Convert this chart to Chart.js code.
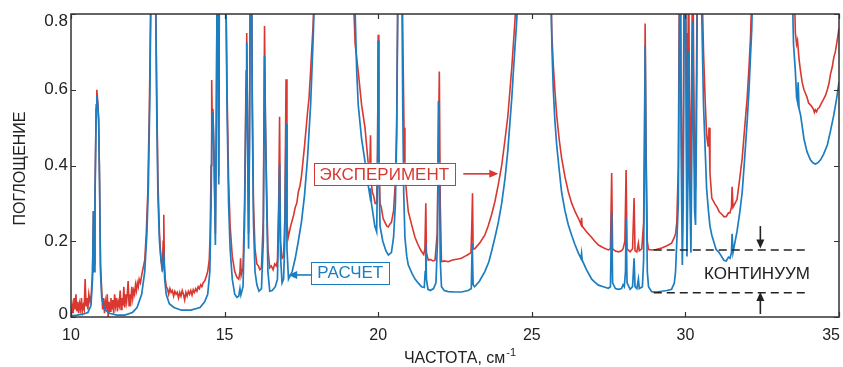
<!DOCTYPE html>
<html><head><meta charset="utf-8">
<script src="https://cdn.jsdelivr.net/npm/chart.js@4"></script>
<style>html,body{margin:0;padding:0;background:#fff}canvas{display:block}</style>
</head><body>
<canvas id="c" width="843" height="367"></canvas>
<script>
const xTickValues = [10, 15, 20, 25, 30, 35];
const xTickLabels = ['10', '15', '20', '25', '30', '35'];
const yTickValues = [0, 0.2, 0.4, 0.6, 0.8];
const yTickLabels = ['0', '0.2', '0.4', '0.6', '0.8'];

// calculated spectrum (РАСЧЕТ): [frequency, absorption]
const calcSpectrum = [
 [10.00,0.003],[10.20,0.005],[10.40,0.008],[10.55,0.012],[10.65,0.03],[10.70,0.10],[10.73,0.28],[10.75,0.12],
 [10.78,0.30],[10.82,0.55],[10.84,0.585],[10.87,0.56],[10.90,0.52],[10.93,0.35],[10.96,0.12],[11.00,0.05],
 [11.10,0.02],[11.25,0.01],[11.50,0.005],[11.75,0.005],[12.00,0.012],[12.15,0.025],[12.30,0.06],[12.40,0.12],
 [12.47,0.22],[12.52,0.35],[12.57,0.60],[12.60,0.85],[12.65,1.1],[12.72,1.1],[12.76,0.80],[12.79,0.55],
 [12.83,0.32],[12.88,0.20],[12.93,0.15],[12.98,0.13],[13.02,0.17],[13.05,0.10],[13.10,0.06],[13.20,0.035],
 [13.35,0.025],[13.60,0.018],[13.90,0.018],[14.20,0.025],[14.35,0.04],[14.45,0.06],[14.52,0.12],[14.56,0.30],
 [14.59,0.53],[14.62,0.54],[14.66,0.40],[14.70,0.19],[14.73,0.50],[14.76,0.95],[14.79,0.80],[14.81,0.35],
 [14.83,0.90],[14.87,1.1],[14.93,0.85],[14.97,1.1],[15.03,0.95],[15.08,0.55],[15.13,0.30],[15.18,0.18],
 [15.25,0.10],[15.33,0.06],[15.40,0.052],[15.46,0.055],[15.50,0.075],[15.53,0.058],[15.60,0.08],[15.65,0.25],
 [15.70,0.60],[15.72,0.725],[15.75,0.45],[15.78,0.18],[15.81,0.45],[15.84,0.95],[15.87,1.1],[15.90,0.55],
 [15.94,0.25],[15.99,0.12],[16.05,0.085],[16.12,0.068],[16.20,0.075],[16.26,0.20],[16.30,0.69],[16.33,0.50],
 [16.37,0.30],[16.41,0.12],[16.47,0.068],[16.55,0.07],[16.65,0.08],[16.72,0.10],[16.76,0.25],[16.79,0.405],
 [16.82,0.16],[16.87,0.09],[16.92,0.10],[16.96,0.20],[17.00,0.51],[17.03,0.18],[17.08,0.10],[17.20,0.12],
 [17.30,0.155],[17.40,0.20],[17.50,0.25],[17.60,0.32],[17.70,0.42],[17.80,0.56],[17.88,0.73],[17.95,0.90],
 [18.05,1.1],[18.60,1.3],[19.15,1.1],[19.20,1.0],[19.25,0.80],[19.30,0.65],[19.35,0.56],[19.46,0.47],
 [19.57,0.41],[19.67,0.35],[19.73,0.32],[19.75,0.34],[19.78,0.30],[19.89,0.24],[19.95,0.225],[19.98,0.40],
 [20.00,0.73],[20.02,0.40],[20.06,0.24],[20.15,0.20],[20.25,0.175],[20.33,0.164],[20.43,0.17],[20.50,0.21],
 [20.56,0.30],[20.60,0.47],[20.64,0.85],[20.70,1.1],[20.76,1.0],[20.80,0.55],[20.83,0.33],[20.87,0.21],
 [20.93,0.16],[20.98,0.137],[21.10,0.115],[21.20,0.10],[21.30,0.09],[21.41,0.08],[21.50,0.078],[21.53,0.12],
 [21.55,0.195],[21.57,0.10],[21.62,0.073],[21.70,0.07],[21.80,0.075],[21.88,0.09],[21.93,0.20],[21.96,0.57],
 [21.99,0.40],[22.02,0.15],[22.06,0.08],[22.15,0.07],[22.28,0.067],[22.50,0.066],[22.71,0.066],[22.93,0.07],
 [23.03,0.075],[23.06,0.195],[23.09,0.085],[23.14,0.08],[23.30,0.095],[23.47,0.12],[23.60,0.145],[23.69,0.173],
 [23.80,0.21],[23.91,0.25],[24.02,0.30],[24.13,0.367],[24.22,0.44],[24.29,0.516],[24.35,0.58],[24.40,0.648],
 [24.45,0.71],[24.50,0.77],[24.55,0.85],[24.60,1.0],[25.10,1.3],[25.58,1.0],[25.62,0.85],[25.66,0.70],
 [25.70,0.60],[25.75,0.52],[25.81,0.454],[25.89,0.39],[25.97,0.33],[26.08,0.28],[26.19,0.243],[26.30,0.215],
 [26.41,0.19],[26.52,0.168],[26.60,0.155],[26.62,0.168],[26.64,0.15],[26.78,0.125],[26.95,0.10],[27.05,0.092],
 [27.17,0.084],[27.33,0.08],[27.49,0.076],[27.56,0.08],[27.60,0.278],[27.63,0.09],[27.72,0.075],[27.82,0.073],
 [27.92,0.075],[27.97,0.085],[28.01,0.08],[28.05,0.12],[28.07,0.26],[28.10,0.09],[28.20,0.073],[28.28,0.08],
 [28.33,0.155],[28.36,0.08],[28.42,0.075],[28.47,0.10],[28.50,0.075],[28.60,0.08],[28.64,0.15],[28.67,0.45],
 [28.69,0.718],[28.72,0.40],[28.76,0.12],[28.80,0.08],[28.90,0.067],[29.05,0.066],[29.23,0.068],[29.40,0.07],
 [29.55,0.073],[29.64,0.09],[29.68,0.12],[29.72,0.20],[29.77,0.30],[29.80,0.70],[29.83,1.0],[29.86,0.45],
 [29.90,0.137],[29.93,0.30],[29.96,0.85],[29.99,1.0],[30.02,0.60],[30.05,0.16],[30.08,0.35],[30.10,0.70],
 [30.13,0.40],[30.18,0.17],[30.21,0.45],[30.24,0.78],[30.27,0.50],[30.30,0.28],[30.33,0.243],[30.36,0.50],
 [30.40,1.0],[30.47,1.0],[30.52,0.85],[30.59,0.56],[30.64,0.45],[30.69,0.34],[30.75,0.28],[30.80,0.24],
 [30.86,0.216],[31.00,0.178],[31.08,0.172],[31.16,0.162],[31.25,0.15],[31.33,0.148],[31.40,0.158],[31.45,0.155],
 [31.50,0.17],[31.52,0.22],[31.55,0.17],[31.68,0.226],[31.76,0.27],[31.85,0.33],[31.93,0.42],[32.01,0.516],
 [32.07,0.60],[32.12,0.69],[32.16,0.76],[32.20,0.90],[32.25,1.1],[32.85,1.3],[33.45,1.1],[33.47,0.9],
 [33.52,0.72],[33.58,0.648],[33.62,0.58],[33.65,0.568],[33.67,0.62],[33.70,0.55],[33.75,0.533],[33.86,0.47],
 [33.96,0.436],[34.07,0.415],[34.15,0.407],[34.23,0.404],[34.31,0.407],[34.40,0.415],[34.50,0.43],[34.62,0.454],
 [34.72,0.49],[34.83,0.533],[34.92,0.575],[35.00,0.62]
];

// measured spectrum (ЭКСПЕРИМЕНТ): [frequency, absorption]
const expSpectrum = [
 [10.00,0.00],[10.04,0.03],[10.07,0.01],[10.10,0.05],[10.13,0.02],[10.16,0.06],[10.19,0.015],[10.22,0.04],
 [10.25,0.01],[10.28,0.035],[10.31,0.02],[10.34,0.05],[10.37,0.015],[10.40,0.03],[10.43,0.02],[10.46,0.10],
 [10.49,0.03],[10.52,0.05],[10.55,0.02],[10.58,0.06],[10.62,0.04],[10.66,0.06],[10.70,0.12],[10.73,0.28],
 [10.75,0.14],[10.78,0.32],[10.82,0.56],[10.84,0.60],[10.87,0.57],[10.90,0.52],[10.93,0.36],[10.96,0.14],
 [11.00,0.07],[11.03,0.02],[11.06,0.05],[11.09,0.01],[11.12,0.04],[11.15,0.02],[11.18,0.06],[11.21,0.00],
 [11.24,0.04],[11.27,0.015],[11.30,0.05],[11.33,0.02],[11.36,0.045],[11.39,0.01],[11.42,0.06],[11.45,0.03],
 [11.48,0.05],[11.51,0.015],[11.54,0.04],[11.57,0.03],[11.60,0.07],[11.63,0.02],[11.66,0.05],[11.69,0.03],
 [11.72,0.08],[11.75,0.025],[11.78,0.06],[11.81,0.04],[11.84,0.07],[11.86,0.095],[11.89,0.03],[11.92,0.06],
 [11.95,0.045],[11.98,0.08],[12.01,0.05],[12.04,0.07],[12.07,0.06],[12.10,0.085],[12.13,0.07],[12.16,0.09],
 [12.19,0.08],[12.22,0.10],[12.26,0.09],[12.30,0.11],[12.35,0.13],[12.40,0.15],[12.45,0.22],[12.50,0.33],
 [12.55,0.55],[12.60,0.85],[12.65,1.1],[12.72,1.1],[12.76,0.82],[12.79,0.60],[12.83,0.36],[12.88,0.22],
 [12.93,0.15],[12.97,0.12],[13.00,0.20],[13.02,0.27],[13.04,0.14],[13.07,0.10],[13.10,0.08],[13.14,0.075],
 [13.18,0.06],[13.22,0.075],[13.26,0.065],[13.30,0.07],[13.34,0.055],[13.38,0.068],[13.42,0.06],[13.46,0.065],
 [13.50,0.05],[13.54,0.065],[13.58,0.055],[13.62,0.07],[13.66,0.06],[13.70,0.045],[13.74,0.065],[13.78,0.055],
 [13.82,0.068],[13.86,0.06],[13.90,0.07],[13.94,0.058],[13.98,0.072],[14.02,0.065],[14.06,0.075],[14.10,0.068],
 [14.14,0.08],[14.18,0.075],[14.22,0.085],[14.26,0.08],[14.30,0.09],[14.35,0.095],[14.40,0.106],[14.45,0.12],
 [14.50,0.15],[14.53,0.22],[14.56,0.40],[14.58,0.626],[14.60,0.50],[14.62,0.55],[14.66,0.42],[14.70,0.22],
 [14.73,0.52],[14.76,0.95],[14.79,0.82],[14.81,0.37],[14.83,0.92],[14.87,1.1],[14.93,0.88],[14.97,1.1],
 [15.03,0.96],[15.08,0.60],[15.13,0.36],[15.18,0.24],[15.25,0.16],[15.33,0.12],[15.40,0.105],[15.46,0.10],
 [15.50,0.12],[15.52,0.155],[15.54,0.11],[15.60,0.13],[15.65,0.30],[15.70,0.65],[15.72,0.75],[15.75,0.48],
 [15.78,0.22],[15.81,0.48],[15.84,0.96],[15.87,1.1],[15.90,0.60],[15.94,0.30],[15.99,0.18],[16.05,0.14],
 [16.10,0.135],[16.15,0.125],[16.20,0.13],[16.26,0.26],[16.30,0.768],[16.33,0.52],[16.37,0.33],[16.41,0.18],
 [16.47,0.13],[16.52,0.135],[16.58,0.125],[16.63,0.14],[16.68,0.135],[16.72,0.15],[16.76,0.30],[16.79,0.529],
 [16.82,0.20],[16.87,0.155],[16.92,0.16],[16.96,0.26],[17.00,0.628],[17.03,0.25],[17.07,0.21],[17.15,0.24],
 [17.20,0.255],[17.25,0.27],[17.30,0.29],[17.35,0.30],[17.40,0.33],[17.45,0.345],[17.50,0.37],[17.60,0.45],
 [17.70,0.54],[17.75,0.58],[17.80,0.65],[17.88,0.77],[17.93,0.90],[18.00,1.1],[18.60,1.3],[19.15,1.1],
 [19.19,0.85],[19.25,0.72],[19.35,0.648],[19.46,0.56],[19.57,0.50],[19.67,0.41],[19.72,0.37],[19.75,0.48],
 [19.77,0.36],[19.81,0.33],[19.85,0.32],[19.90,0.30],[19.95,0.30],[19.98,0.45],[20.00,0.745],[20.02,0.45],
 [20.06,0.30],[20.10,0.29],[20.16,0.26],[20.22,0.25],[20.28,0.24],[20.33,0.238],[20.38,0.245],[20.43,0.25],
 [20.50,0.28],[20.56,0.36],[20.60,0.50],[20.64,0.88],[20.70,1.1],[20.76,1.1],[20.80,0.75],[20.84,0.50],
 [20.87,0.38],[20.93,0.32],[20.98,0.278],[21.10,0.24],[21.20,0.21],[21.30,0.19],[21.41,0.173],[21.48,0.165],
 [21.52,0.18],[21.55,0.30],[21.57,0.17],[21.63,0.15],[21.70,0.152],[21.78,0.148],[21.85,0.15],[21.92,0.22],
 [21.99,0.648],[22.02,0.30],[22.06,0.146],[22.15,0.148],[22.28,0.146],[22.40,0.15],[22.50,0.152],[22.60,0.153],
 [22.71,0.155],[22.82,0.16],[22.93,0.165],[23.02,0.17],[23.05,0.25],[23.07,0.327],[23.09,0.18],[23.14,0.18],
 [23.30,0.195],[23.47,0.216],[23.58,0.24],[23.69,0.27],[23.80,0.305],[23.91,0.35],[24.02,0.40],[24.13,0.47],
 [24.22,0.53],[24.29,0.60],[24.35,0.66],[24.40,0.72],[24.45,0.78],[24.50,0.85],[24.55,1.0],[25.10,1.3],
 [25.60,1.0],[25.65,0.75],[25.70,0.665],[25.75,0.60],[25.81,0.533],[25.89,0.47],[25.97,0.42],[26.08,0.37],
 [26.19,0.33],[26.30,0.30],[26.41,0.278],[26.52,0.26],[26.60,0.245],[26.62,0.262],[26.64,0.24],[26.78,0.225],
 [26.95,0.21],[27.05,0.20],[27.17,0.19],[27.33,0.183],[27.49,0.177],[27.56,0.18],[27.60,0.38],[27.63,0.18],
 [27.72,0.174],[27.82,0.172],[27.92,0.175],[27.97,0.18],[28.03,0.20],[28.07,0.388],[28.10,0.18],[28.20,0.172],
 [28.28,0.18],[28.33,0.314],[28.36,0.175],[28.42,0.172],[28.47,0.195],[28.50,0.175],[28.58,0.18],[28.64,0.25],
 [28.67,0.50],[28.69,0.775],[28.72,0.45],[28.76,0.20],[28.80,0.178],[28.90,0.177],[29.05,0.178],[29.23,0.182],
 [29.40,0.188],[29.55,0.195],[29.64,0.21],[29.68,0.22],[29.72,0.25],[29.77,0.40],[29.80,0.85],[29.83,1.1],
 [29.86,0.60],[29.90,0.31],[29.93,0.45],[29.96,1.0],[29.99,1.1],[30.02,0.75],[30.05,0.30],[30.08,0.50],
 [30.10,1.0],[30.13,0.60],[30.18,0.34],[30.21,0.70],[30.24,1.0],[30.27,0.65],[30.30,0.40],[30.33,0.34],
 [30.36,0.62],[30.40,1.1],[30.47,1.1],[30.52,0.95],[30.59,0.70],[30.64,0.58],[30.69,0.48],[30.74,0.45],
 [30.77,0.50],[30.80,0.38],[30.86,0.314],[30.95,0.30],[31.03,0.29],[31.10,0.278],[31.20,0.27],[31.25,0.265],
 [31.33,0.265],[31.40,0.275],[31.45,0.275],[31.50,0.29],[31.52,0.344],[31.55,0.29],[31.68,0.31],[31.76,0.36],
 [31.85,0.42],[31.93,0.50],[32.01,0.578],[32.07,0.66],[32.12,0.74],[32.16,0.85],[32.20,1.0],[32.85,1.3],
 [33.50,1.0],[33.55,0.85],[33.58,0.75],[33.62,0.72],[33.65,0.73],[33.70,0.68],[33.75,0.648],[33.80,0.62],
 [33.86,0.60],[33.91,0.59],[33.96,0.58],[34.01,0.565],[34.07,0.56],[34.12,0.555],[34.17,0.548],[34.20,0.54],
 [34.23,0.547],[34.27,0.542],[34.31,0.55],[34.36,0.553],[34.40,0.56],[34.45,0.568],[34.50,0.575],[34.56,0.585],
 [34.62,0.60],[34.67,0.615],[34.72,0.64],[34.78,0.66],[34.83,0.685],[34.88,0.70],[34.92,0.72],[34.96,0.74],
 [35.00,0.763]
];

// continuum levels marked by dashed lines
const continuumFreq = [28.97, 34.0];
const continuumExp = [0.177, 0.177];
const continuumCalc = [0.064, 0.064];

const RED = '#d9372f';
const BLUE = '#1c7dc1';
const INK = '#222222';
const FONT = '"Liberation Sans", Arial, Helvetica, sans-serif';

function arrow(ctx, x1, y1, x2, y2, color, head) {
  const ang = Math.atan2(y2 - y1, x2 - x1);
  const hl = head || 9, hw = 4;
  ctx.strokeStyle = color; ctx.fillStyle = color; ctx.lineWidth = 1.6;
  ctx.beginPath(); ctx.moveTo(x1, y1);
  ctx.lineTo(x2 - Math.cos(ang) * hl * 0.8, y2 - Math.sin(ang) * hl * 0.8); ctx.stroke();
  ctx.beginPath(); ctx.moveTo(x2, y2);
  ctx.lineTo(x2 - Math.cos(ang) * hl - Math.sin(ang) * hw, y2 - Math.sin(ang) * hl + Math.cos(ang) * hw);
  ctx.lineTo(x2 - Math.cos(ang) * hl + Math.sin(ang) * hw, y2 - Math.sin(ang) * hl - Math.cos(ang) * hw);
  ctx.closePath(); ctx.fill();
}

function boxLabel(ctx, text, cx, cy, color) {
  ctx.font = '17px ' + FONT;
  const w = ctx.measureText(text).width;
  const bw = w + 12, bh = 22;
  ctx.fillStyle = '#fff';
  ctx.fillRect(cx - bw / 2, cy - bh / 2, bw, bh);
  ctx.strokeStyle = color; ctx.lineWidth = 1;
  ctx.strokeRect(Math.round(cx - bw / 2) + 0.5, Math.round(cy - bh / 2) + 0.5, Math.round(bw), bh);
  ctx.fillStyle = color; ctx.textAlign = 'center'; ctx.textBaseline = 'middle';
  ctx.fillText(text, cx, cy + 1);
}

const annotations = {
  id: 'annotations',
  afterDatasetsDraw(chart) {
    const { ctx, chartArea: a, scales: { x, y } } = chart;
    const W = chart.width;
    ctx.save();
    // frame
    ctx.strokeStyle = '#333'; ctx.lineWidth = 1.5;
    ctx.strokeRect(a.left, a.top, a.right - a.left, a.bottom - a.top);
    // inward ticks on all four sides
    ctx.lineWidth = 1.2;
    ctx.beginPath();
    xTickValues.forEach(v => {
      const px = Math.round(x.getPixelForValue(v)) + 0.5;
      ctx.moveTo(px, a.bottom); ctx.lineTo(px, a.bottom - 5);
      ctx.moveTo(px, a.top); ctx.lineTo(px, a.top + 5);
    });
    yTickValues.forEach(v => {
      const py = Math.round(y.getPixelForValue(v)) + 0.5;
      ctx.moveTo(a.left, py); ctx.lineTo(a.left + 5, py);
      ctx.moveTo(a.right, py); ctx.lineTo(a.right - 5, py);
    });
    ctx.stroke();

    // tick labels (kept inside the figure at the ends)
    ctx.fillStyle = INK;
    ctx.font = '16px ' + FONT;
    ctx.textAlign = 'center'; ctx.textBaseline = 'middle';
    xTickValues.forEach((v, i) => {
      const w = ctx.measureText(xTickLabels[i]).width;
      const px = Math.min(x.getPixelForValue(v), W - 3 - w / 2);
      ctx.fillText(xTickLabels[i], px, a.bottom + 19);
    });
    ctx.font = '17px ' + FONT;
    ctx.textAlign = 'right';
    yTickValues.forEach((v, i) => {
      const py = Math.min(Math.max(y.getPixelForValue(v), a.top + 7), a.bottom - 3);
      ctx.fillText(yTickLabels[i], a.left - 3, py);
    });

    // labels for the two curves
    boxLabel(ctx, 'ЭКСПЕРИМЕНТ', x.getPixelForValue(20.2), y.getPixelForValue(0.378), RED);
    arrow(ctx, x.getPixelForValue(22.77), y.getPixelForValue(0.378), x.getPixelForValue(23.91), y.getPixelForValue(0.378), RED);
    boxLabel(ctx, 'РАСЧЕТ', x.getPixelForValue(19.09), y.getPixelForValue(0.117), BLUE);
    arrow(ctx, x.getPixelForValue(17.85), y.getPixelForValue(0.111), x.getPixelForValue(17.07), y.getPixelForValue(0.111), BLUE);

    // continuum
    const ax = x.getPixelForValue(32.44);
    arrow(ctx, ax, y.getPixelForValue(0.24), ax, y.getPixelForValue(0.181), INK);
    arrow(ctx, ax, y.getPixelForValue(0.008), ax, y.getPixelForValue(0.066), INK);
    ctx.font = '17px ' + FONT; ctx.fillStyle = INK;
    ctx.textAlign = 'center'; ctx.textBaseline = 'middle';
    ctx.fillText('КОНТИНУУМ', x.getPixelForValue(32.33), y.getPixelForValue(0.113));

    // axis titles
    ctx.font = '16px ' + FONT; ctx.fillStyle = INK;
    const t1 = 'ЧАСТОТА, см', t2 = '-1';
    const w1 = ctx.measureText(t1).width;
    ctx.font = '11px ' + FONT;
    const w2 = ctx.measureText(t2).width;
    const cx = (a.left + a.right) / 2 + 5;
    const x0 = cx - (w1 + w2 + 1) / 2;
    ctx.textAlign = 'left'; ctx.textBaseline = 'alphabetic';
    ctx.font = '16px ' + FONT;
    ctx.fillText(t1, x0, 363);
    ctx.font = '11px ' + FONT;
    ctx.fillText(t2, x0 + w1 + 1, 356);

    ctx.font = '16px ' + FONT;
    ctx.translate(21, (a.top + a.bottom) / 2 + 3);
    ctx.rotate(-Math.PI / 2);
    ctx.textAlign = 'center'; ctx.textBaseline = 'middle';
    ctx.fillText('ПОГЛОЩЕНИЕ', 0, 0);
    ctx.restore();
  }
};

const toPoints = arr => arr.map(p => ({ x: p[0], y: p[1] }));

new Chart(document.getElementById('c'), {
  type: 'line',
  data: {
    datasets: [
      { label: 'РАСЧЕТ', data: toPoints(calcSpectrum), borderColor: BLUE, borderWidth: 1.7, pointRadius: 0, tension: 0, order: 1, clip: 0 },
      { label: 'ЭКСПЕРИМЕНТ', data: toPoints(expSpectrum), borderColor: RED, borderWidth: 1.6, pointRadius: 0, tension: 0, order: 2, clip: 0 },
      { label: 'continuum exp', data: continuumFreq.map((f, i) => ({ x: f, y: continuumExp[i] })), borderColor: INK, borderWidth: 1.5, borderDash: [8, 5], pointRadius: 0, order: 0 },
      { label: 'continuum calc', data: continuumFreq.map((f, i) => ({ x: f, y: continuumCalc[i] })), borderColor: INK, borderWidth: 1.5, borderDash: [8, 5], pointRadius: 0, order: 0 }
    ]
  },
  options: {
    responsive: false,
    animation: false,
    events: [],
    layout: { padding: { top: 14, right: 4, left: 0, bottom: 0 } },
    plugins: { legend: { display: false }, tooltip: { enabled: false } },
    scales: {
      x: {
        type: 'linear', min: 10, max: 35,
        afterBuildTicks: s => { s.ticks = xTickValues.map(v => ({ value: v })); },
        afterFit: s => { s.height = 50; s.paddingLeft = 0; s.paddingRight = 0; },
        ticks: { display: false },
        grid: { display: false, drawTicks: false },
        border: { display: false }
      },
      y: {
        type: 'linear', min: 0, max: 0.8,
        afterBuildTicks: s => { s.ticks = yTickValues.map(v => ({ value: v })); },
        afterFit: s => { s.width = 71; s.paddingTop = 0; s.paddingBottom = 0; },
        ticks: { display: false },
        grid: { display: false, drawTicks: false },
        border: { display: false }
      }
    }
  },
  plugins: [annotations]
});
</script>
</body></html>
